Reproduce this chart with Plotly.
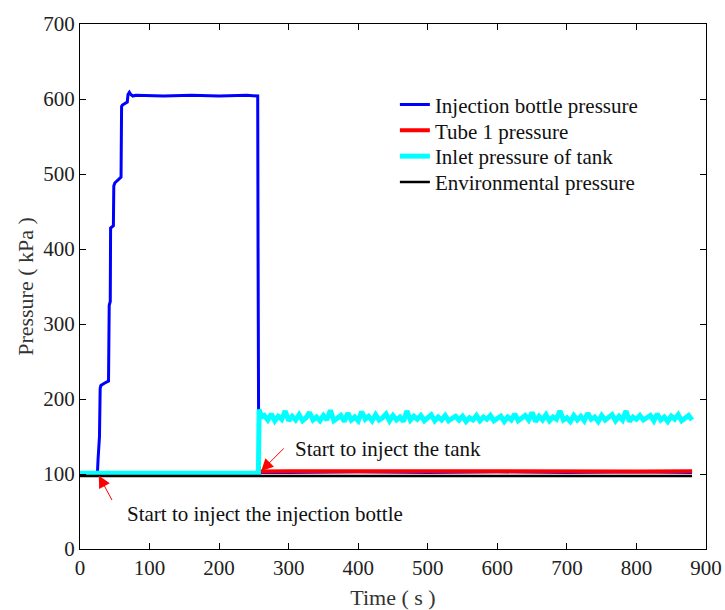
import plotly.graph_objects as go

# ---- data ----
blue_t = [0, 25, 26, 27, 28, 29, 30, 35, 41, 42, 43.5, 44, 48, 48.6, 50, 59, 59.8, 61, 68, 69, 71, 73, 76, 80,
          120, 160, 200, 240, 255.5, 256, 256.5, 257, 300, 400, 500, 600, 700, 800, 880]
blue_p = [100, 100, 120, 148, 150, 214, 218, 221, 224, 325, 330, 428, 431, 484, 488, 496, 590, 592, 596, 606, 609, 606, 604, 605,
          604, 605, 604, 605, 604, 400, 290, 102, 102, 103, 102, 103, 102, 103, 102]

red_t = [0, 255.5, 256.3, 256.8, 257.5, 300, 400, 500, 600, 700, 800, 880]
red_p = [100, 100, 114, 104, 103.5, 103.8, 103.5, 103.8, 103.5, 103.8, 103.5, 103.8]

cyan_head_t = [0, 256.5, 257.5, 258.5, 261]
cyan_head_p = [101, 101, 186, 184, 176]
cyan_noise = [178, 172, 180, 171, 177, 173, 184, 171, 177, 172, 179, 171, 175, 182, 172, 176, 171, 178, 172, 185,
              171, 175, 178, 170, 181, 172, 176, 171, 183, 173, 177, 171, 179, 172, 175, 180, 171, 178, 172, 176,
              170, 184, 172, 177, 173, 178, 171, 175, 179, 171, 176, 172, 178, 171, 174, 177, 172, 177, 170, 175,
              172, 178, 171, 176, 173, 178, 171, 174, 177, 170, 176, 172, 180, 171, 175, 178, 172, 182, 170, 177,
              172, 179, 171, 176, 173, 184, 172, 175, 170, 178, 172, 177, 171, 181, 173, 176, 170, 178, 172, 175,
              179, 171, 177, 172, 184, 170, 176, 173, 178, 172, 175, 178, 171, 180, 172, 176, 170, 177, 173, 179,
              171, 175, 178, 172]
cyan_start, cyan_end = 265, 880

black_t = [0, 100, 200, 300, 400, 500, 600, 700, 800, 880]
black_p = [97.5, 97.3, 97.6, 97.4, 97.6, 97.3, 97.5, 97.4, 97.6, 97.4]

names = ["Injection bottle pressure", "Tube 1 pressure", "Inlet pressure of tank", "Environmental pressure"]
x_ticks = [0, 100, 200, 300, 400, 500, 600, 700, 800, 900]
y_ticks = [0, 100, 200, 300, 400, 500, 600, 700]

# ---- build ----
n = len(cyan_noise)
step = (cyan_end - cyan_start) / (n - 1)
cyan_t = cyan_head_t + [cyan_start + i * step for i in range(n)]
cyan_p = cyan_head_p + cyan_noise

FONT = "Liberation Serif"
legend_ids = ["legend", "legend2", "legend3", "legend4"]

fig = go.Figure()
fig.add_trace(go.Scatter(x=blue_t, y=blue_p, mode="lines", name=names[0], legend=legend_ids[0],
                         line=dict(color="#0000ff", width=3)))
fig.add_trace(go.Scatter(x=red_t, y=red_p, mode="lines", name=names[1], legend=legend_ids[1],
                         line=dict(color="#ff0000", width=4)))
fig.add_trace(go.Scatter(x=cyan_t, y=cyan_p, mode="lines", name=names[2], legend=legend_ids[2],
                         line=dict(color="#00ffff", width=5)))
fig.add_trace(go.Scatter(x=black_t, y=black_p, mode="lines", name=names[3], legend=legend_ids[3],
                         line=dict(color="#000000", width=2.5)))

axis_common = dict(showline=True, linecolor="black", linewidth=1, mirror="ticks", ticks="inside",
                   ticklen=6, tickcolor="black", showgrid=False, zeroline=False,
                   tickfont=dict(family=FONT, size=21, color="#222222"))

def leg(ypx):
    return dict(x=0.503, y=(549 - ypx) / 529, xanchor="left", yanchor="middle", bgcolor="rgba(0,0,0,0)",
                font=dict(family=FONT, size=21, color="#111111"), borderwidth=0)

fig.update_layout(
    width=725, height=610,
    margin=dict(l=80, r=19, t=20, b=61),
    paper_bgcolor="white", plot_bgcolor="white",
    font=dict(family=FONT, color="#222222"),
    showlegend=True,
    legend=leg(101.5), legend2=leg(127.5), legend3=leg(153.5), legend4=leg(179.5),
    xaxis=dict(range=[0, 900], tickvals=x_ticks, automargin=False,
               title=dict(text="Time ( s )", font=dict(family=FONT, size=22, color="#333333")),
               **axis_common),
    yaxis=dict(range=[0, 700], tickvals=y_ticks, automargin=True,
               title=dict(text="Pressure ( kPa )", font=dict(family=FONT, size=22, color="#333333"), standoff=3),
               **axis_common),
)

# arrows
fig.add_annotation(x=260.5, y=104, ax=24, ay=-24, showarrow=True, arrowhead=2, arrowsize=2.4,
                   arrowwidth=1, arrowcolor="red", text="")
fig.add_annotation(x=27, y=98, ax=14, ay=26, showarrow=True, arrowhead=2, arrowsize=2.4,
                   arrowwidth=1, arrowcolor="red", text="")
# texts
fig.add_annotation(x=306, y=134, xanchor="left", yanchor="middle", showarrow=False,
                   text="Start to inject the tank", font=dict(family=FONT, size=21, color="#111111"))
fig.add_annotation(x=65, y=47, xanchor="left", yanchor="middle", showarrow=False,
                   text="Start to inject the injection bottle", font=dict(family=FONT, size=21, color="#111111"))

fig.write_html("out.html")
